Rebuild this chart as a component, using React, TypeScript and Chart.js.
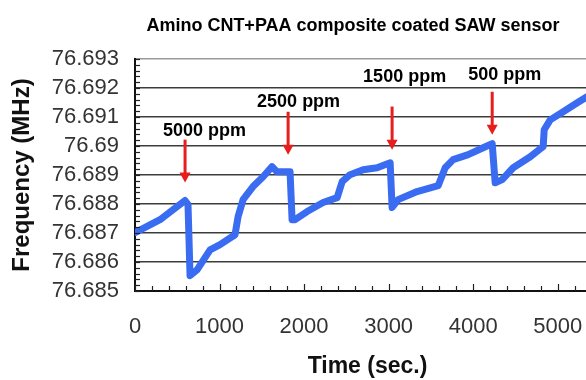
import React, { useEffect, useRef } from 'react';
import { Chart, registerables } from 'chart.js';

Chart.register(...registerables);

// ---- data ----
const timeSec = [0, 296, 592, 627, 651, 734, 888, 1006, 1183, 1219, 1278, 1396, 1515, 1621, 1680, 1834, 1858, 1893, 2036, 2225, 2391, 2450, 2544, 2698, 2864, 3018, 3041, 3112, 3337, 3586, 3669, 3763, 3941, 4118, 4225, 4260, 4343, 4473, 4675, 4828, 4840, 4911, 5065, 5231, 5385];
const freqMHz = [76.68701, 76.68746, 76.68812, 76.68798, 76.68553, 76.68573, 76.68642, 76.6866, 76.68694, 76.68756, 76.68815, 76.6886, 76.68894, 76.68929, 76.68911, 76.68911, 76.68746, 76.68746, 76.68774, 76.68805, 76.68822, 76.68877, 76.68901, 76.68918, 76.68925, 76.68942, 76.68788, 76.68815, 76.68843, 76.68863, 76.68925, 76.68953, 76.6897, 76.68994, 76.69008, 76.68873, 76.68884, 76.68925, 76.68963, 76.68998, 76.69056, 76.6909, 76.69118, 76.69149, 76.69177];

const xTickValues = [0, 1000, 2000, 3000, 4000, 5000];
const xTickLabels = ['0', '1000', '2000', '3000', '4000', '5000'];
const yTickValues = [76.685, 76.686, 76.687, 76.688, 76.689, 76.69, 76.691, 76.692, 76.693];
const yTickLabels = ['76.685', '76.686', '76.687', '76.688', '76.689', '76.69', '76.691', '76.692', '76.693'];

const doseLabels = ['5000 ppm', '2500 ppm', '1500 ppm', '500 ppm'];
const doseTimes = [592, 1811, 3041, 4225];
const arrowTopFreq = [76.69022, 76.69118, 76.69136, 76.69187];
const arrowTipFreq = [76.68874, 76.6897, 76.68987, 76.69039];
const labelTimes = [331, 1444, 2698, 3941];
const labelFreq = [76.69053, 76.69153, 76.69239, 76.69246];

const chartTitle = 'Amino CNT+PAA composite coated SAW sensor';
const xTitle = 'Time (sec.)';
const yTitle = 'Frequency (MHz)';

const X_MIN = 0;
const X_MAX = 5500;
const Y_MIN = 76.685;
const Y_MAX = 76.693;

const FONT = '"Liberation Sans", Arial, Helvetica, sans-serif';

const overlayPlugin = {
  id: 'overlay',
  afterDatasetsDraw(chart: any) {
    const { ctx, chartArea } = chart;
    const x = chart.scales.x;
    const y = chart.scales.y;
    ctx.save();

    // inward minor ticks on y axis
    ctx.strokeStyle = '#222';
    ctx.lineWidth = 1.2;
    for (let i = 0; i <= 40; i++) {
      const v = Y_MIN + i * 0.0002;
      const py = Math.round(y.getPixelForValue(v)) + 0.5;
      ctx.beginPath();
      ctx.moveTo(chartArea.left, py);
      ctx.lineTo(chartArea.left + 5, py);
      ctx.stroke();
    }
    // inward ticks on x axis
    for (let t = X_MIN; t <= X_MAX; t += 200) {
      const px = Math.round(x.getPixelForValue(t)) + 0.5;
      const len = t % 1000 === 0 ? 7 : 5;
      ctx.beginPath();
      ctx.moveTo(px, chartArea.bottom);
      ctx.lineTo(px, chartArea.bottom - len);
      ctx.stroke();
    }

    // arrows
    ctx.strokeStyle = '#e61e1e';
    ctx.fillStyle = '#e61e1e';
    ctx.lineWidth = 3;
    for (let i = 0; i < doseTimes.length; i++) {
      const px = x.getPixelForValue(doseTimes[i]);
      const top = y.getPixelForValue(arrowTopFreq[i]);
      const tip = y.getPixelForValue(arrowTipFreq[i]);
      ctx.beginPath();
      ctx.moveTo(px, top);
      ctx.lineTo(px, tip - 9);
      ctx.stroke();
      ctx.beginPath();
      ctx.moveTo(px - 5.5, tip - 10);
      ctx.lineTo(px + 5.5, tip - 10);
      ctx.lineTo(px, tip);
      ctx.closePath();
      ctx.fill();
    }

    // dose labels
    ctx.fillStyle = '#000';
    ctx.font = `bold 18px ${FONT}`;
    ctx.textAlign = 'left';
    ctx.textBaseline = 'middle';
    for (let i = 0; i < doseLabels.length; i++) {
      ctx.fillText(doseLabels[i], x.getPixelForValue(labelTimes[i]), y.getPixelForValue(labelFreq[i]));
    }

    // chart title
    ctx.font = `bold 18px ${FONT}`;
    ctx.textAlign = 'center';
    ctx.textBaseline = 'alphabetic';
    ctx.fillStyle = '#000';
    ctx.fillText(chartTitle, 353, 31);

    ctx.restore();
  },
};

export default function App() {
  const canvasRef = useRef<HTMLCanvasElement | null>(null);

  useEffect(() => {
    const canvas = canvasRef.current;
    if (!canvas) return;
    const chart = new Chart(canvas, {
      type: 'scatter',
      data: {
        datasets: [
          {
            data: timeSec.map((t, i) => ({ x: t, y: freqMHz[i] })),
            showLine: true,
            borderColor: '#3a6cf2',
            backgroundColor: '#3a6cf2',
            borderWidth: 7,
            pointRadius: 0,
            tension: 0,
            borderJoinStyle: 'round',
            borderCapStyle: 'round',
          } as any,
        ],
      },
      options: {
        animation: false,
        responsive: false,
        devicePixelRatio: 1,
        layout: { padding: { top: 59, left: 0, right: 20, bottom: 0 } },
        plugins: {
          legend: { display: false },
          title: { display: false },
          tooltip: { enabled: false },
        },
        scales: {
          x: {
            type: 'linear',
            min: X_MIN,
            max: X_MAX,
            afterBuildTicks: (s: any) => {
              s.ticks = xTickValues.map((v) => ({ value: v }));
            },
            afterFit: (s: any) => {
              s.height = 89;
            },
            grid: { display: false, drawTicks: false },
            border: { display: true, color: '#111', width: 2 },
            ticks: {
              autoSkip: false,
              padding: 23,
              color: '#333',
              font: { family: FONT, size: 22 },
              maxRotation: 0,
              callback: (_v: any, i: number) => xTickLabels[i],
            },
            title: {
              display: true,
              text: xTitle,
              color: '#111',
              font: { family: FONT, size: 23, weight: 'bold' },
              padding: { top: 0, bottom: 0 },
            },
          },
          y: {
            type: 'linear',
            min: Y_MIN,
            max: Y_MAX,
            afterBuildTicks: (s: any) => {
              s.ticks = yTickValues.map((v) => ({ value: v }));
            },
            afterFit: (s: any) => {
              s.width = 135;
            },
            grid: {
              drawTicks: false,
              color: (c: any) => (c.tick && Math.abs(c.tick.value - Y_MAX) < 1e-7 ? '#9a9a9a' : '#3c3c3c'),
              lineWidth: 1.5,
            },
            border: { display: true, color: '#111', width: 2 },
            ticks: {
              autoSkip: false,
              padding: 16,
              color: '#333',
              font: { family: FONT, size: 22 },
              callback: (_v: any, i: number) => yTickLabels[i],
            },
            title: {
              display: true,
              text: yTitle,
              color: '#111',
              font: { family: FONT, size: 24, weight: 'bold' },
              padding: { top: 8, bottom: 0 },
            },
          },
        },
      },
      plugins: [overlayPlugin],
    });
    return () => chart.destroy();
  }, []);

  return (
    <div
      style={{
        position: 'absolute',
        left: 0,
        top: 0,
        width: 586,
        height: 380,
        overflow: 'hidden',
        background: '#fff',
      }}
    >
      <canvas ref={canvasRef} width={620} height={380} style={{ display: 'block', width: 620, height: 380 }} />
    </div>
  );
}
